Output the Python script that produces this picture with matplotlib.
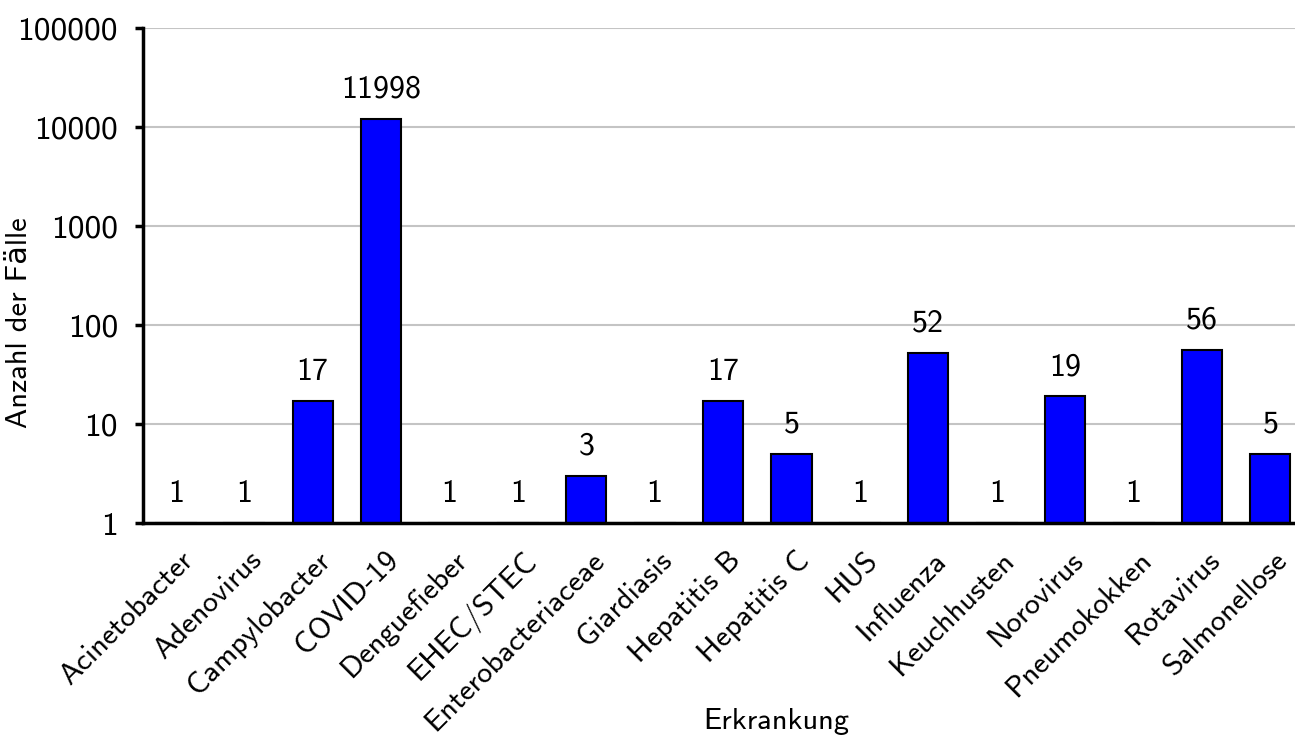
import matplotlib
matplotlib.use("Agg")
import matplotlib.pyplot as plt
import matplotlib.transforms as mtransforms
import numpy as np

plt.rcParams["font.family"] = ["cmss10", "DejaVu Sans"]
plt.rcParams["axes.unicode_minus"] = False

krankheiten = ["Acinetobacter", "Adenovirus", "Campylobacter", "COVID-19",
               "Denguefieber", "EHEC/STEC", "Enterobacteriaceae", "Giardiasis",
               "Hepatitis B", "Hepatitis C", "HUS", "Influenza", "Keuchhusten",
               "Norovirus", "Pneumokokken", "Rotavirus", "Salmonellose"]
faelle = [1, 1, 17, 11998, 1, 1, 3, 1, 17, 5, 1, 52, 1, 19, 1, 56, 5]
y_ticks = [1, 10, 100, 1000, 10000, 100000]

fig = plt.figure(figsize=(12.95, 7.38), dpi=100)
# rechte Achsenkante liegt etwas ausserhalb der Abbildung
ax = fig.add_axes([0.1104, 0.2913, 0.897, 0.6707])

x = np.arange(len(krankheiten))
ax.bar(x, faelle, width=0.585, bottom=0, color="#0000ff",
       edgecolor="black", linewidth=1.5, zorder=3)

ax.set_yscale("log")
ax.set_ylim(1, 100000)
ax.set_xlim(-0.48, len(krankheiten) - 0.5)
ax.set_yticks(y_ticks)
ax.set_yticklabels([str(t) for t in y_ticks])
ax.minorticks_off()
ax.yaxis.grid(True, color="#c4c4c4", linewidth=1.5, zorder=0)

# Werte über den Balken
for xi, v in zip(x, faelle):
    ax.annotate(str(v), (xi, v), xytext=(0, 11), textcoords="offset points",
                ha="center", va="bottom", fontsize=23)

ax.set_xticks(x)
ax.set_xticklabels(krankheiten, rotation=45, ha="right",
                   rotation_mode="anchor", fontsize=22)
ax.tick_params(axis="x", length=0, pad=17)
# Beschriftungen leicht nach rechts schieben
shift = mtransforms.ScaledTranslation(4 / 100, 0, fig.dpi_scale_trans)
for lbl in ax.get_xticklabels():
    lbl.set_transform(lbl.get_transform() + shift)
ax.tick_params(axis="y", direction="out", length=6, width=2.5,
               labelsize=24, pad=12)

for s in ["top", "right"]:
    ax.spines[s].set_visible(False)
ax.spines["left"].set_linewidth(2.5)
ax.spines["bottom"].set_linewidth(2.5)
ax.spines["bottom"].set_zorder(4)

ax.set_xlabel("Erkrankung", fontsize=22)
ax.set_ylabel("Anzahl der Fälle", fontsize=22)
ax.xaxis.set_label_coords(0.545, -0.374)
ax.yaxis.set_label_coords(-0.095, 0.404)

fig.savefig("out.png", dpi=100)
